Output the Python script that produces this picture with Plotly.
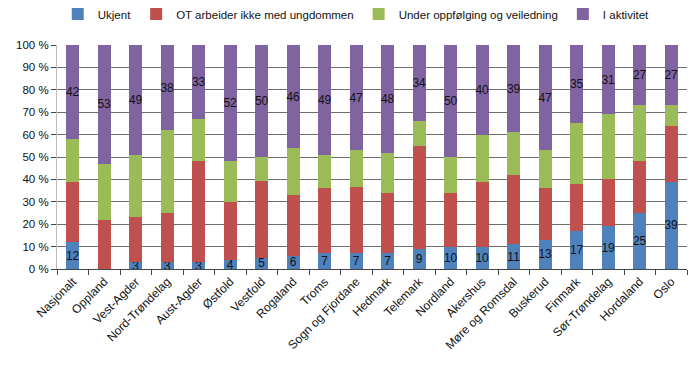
import plotly.graph_objects as go

categories = ["Nasjonalt", "Oppland", "Vest-Agder", "Nord-Trøndelag", "Aust-Agder", "Østfold",
              "Vestfold", "Rogaland", "Troms", "Sogn og Fjordane", "Hedmark", "Telemark",
              "Nordland", "Akershus", "Møre og Romsdal", "Buskerud", "Finmark", "Sør-Trøndelag",
              "Hordaland", "Oslo"]
ukjent = [12, 0, 3, 3, 3, 4, 5, 6, 7, 7, 7, 9, 10, 10, 11, 13, 17, 19, 25, 39]
ot_ikke = [27, 22, 20, 22, 45, 26, 34.5, 27, 29, 29.5, 27, 46, 24, 29, 31, 23, 21, 21, 23, 25]
oppfolging = [19, 25, 28, 37, 19, 18, 10.5, 21, 15, 16.5, 18, 11, 16, 21, 19, 17, 27, 29, 25, 9]
aktivitet = [42, 53, 49, 38, 33, 52, 50, 46, 49, 47, 48, 34, 50, 40, 39, 47, 35, 31, 27, 27]

ukjent_labels = ["" if v == 0 else str(v) for v in ukjent]
aktivitet_labels = [str(v) for v in aktivitet]

font_family = "Liberation Sans"

fig = go.Figure()
fig.add_trace(go.Bar(name="Ukjent", x=categories, y=ukjent, marker_color="#4F81BD",
                     text=ukjent_labels, textposition="inside", insidetextanchor="middle",
                     textangle=0, textfont=dict(color="#111", size=12), constraintext="none"))
fig.add_trace(go.Bar(name="OT arbeider ikke med ungdommen", x=categories, y=ot_ikke,
                     marker_color="#C0504D"))
fig.add_trace(go.Bar(name="Under oppfølging og veiledning", x=categories, y=oppfolging,
                     marker_color="#9BBB59"))
fig.add_trace(go.Bar(name="I aktivitet", x=categories, y=aktivitet, marker_color="#8064A2",
                     text=aktivitet_labels, textposition="inside", insidetextanchor="middle",
                     textangle=0, textfont=dict(color="#111", size=12), constraintext="none"))

fig.update_traces(marker_line_width=0, hovertemplate="%{x}: %{y}<extra>%{fullData.name}</extra>")

fig.update_layout(
    barmode="stack",
    bargap=0.59,
    width=700, height=368,
    margin=dict(l=57, r=13, t=45, b=99, autoexpand=False),
    paper_bgcolor="white", plot_bgcolor="white",
    font=dict(family=font_family, size=11, color="#111"),
    uniformtext=dict(minsize=12, mode="show"),
    legend=dict(orientation="h", x=0.475, xanchor="center", y=1.138, yref="paper",
                yanchor="middle", traceorder="normal", itemwidth=30,
                font=dict(size=11.5)),
    yaxis=dict(range=[0, 100], tickvals=[0, 10, 20, 30, 40, 50, 60, 70, 80, 90, 100],
               ticktext=[f"{v} %" for v in range(0, 101, 10)],
               showgrid=True, gridcolor="#6e6e6e", gridwidth=1,
               showline=True, linecolor="#bbbbbb", linewidth=1, automargin=False,
               ticks="outside", ticklen=5, tickcolor="#444", zeroline=False,
               tickfont=dict(size=11.5)),
    xaxis=dict(tickangle=-45, showline=True, linecolor="#444", linewidth=1, automargin=False,
               ticks="outside", tickson="boundaries", ticklen=5, tickcolor="#444",
               tickfont=dict(size=12)),
)

fig.write_html("out.html", config={"displayModeBar": False},
               post_script="document.body.style.margin='0';document.body.style.padding='0';")
